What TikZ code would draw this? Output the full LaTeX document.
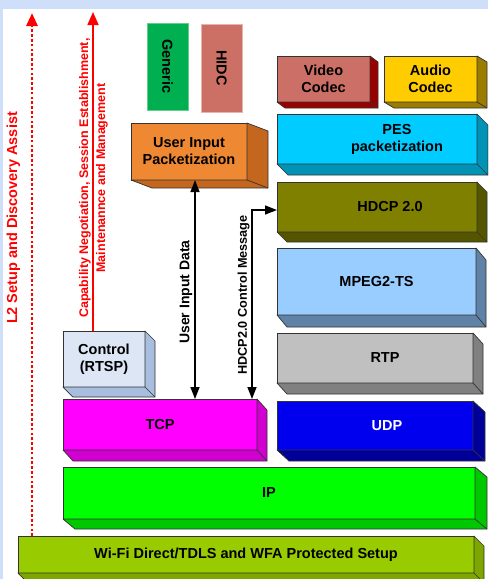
\documentclass[tikz,border=0pt]{standalone}
\usepackage{fontspec}
\setmainfont{Liberation Sans}
\usetikzlibrary{arrows.meta,calc}
\definecolor{frameblue}{HTML}{CFDFFA}
\definecolor{videoF}{HTML}{CC6F66}\definecolor{videoS}{HTML}{990000}
\definecolor{audioF}{HTML}{FFCC00}\definecolor{audioS}{HTML}{9C7C00}
\definecolor{pesF}{HTML}{00CCFF}\definecolor{pesS}{HTML}{0093B5}
\definecolor{hdcpF}{HTML}{808000}\definecolor{hdcpS}{HTML}{555500}
\definecolor{mpegF}{HTML}{99CCFF}\definecolor{mpegS}{HTML}{5F82A6}
\definecolor{rtpF}{HTML}{C0C0C0}\definecolor{rtpS}{HTML}{808080}
\definecolor{udpF}{HTML}{0000EE}\definecolor{udpS}{HTML}{000099}
\definecolor{tcpF}{HTML}{FF00FF}\definecolor{tcpS}{HTML}{D000D0}
\definecolor{ctrlF}{HTML}{DCE6F5}\definecolor{ctrlS}{HTML}{A8BEDF}
\definecolor{uipF}{HTML}{EE8833}\definecolor{uipS}{HTML}{C4661E}
\definecolor{ipF}{HTML}{00FF00}\definecolor{ipS}{HTML}{00C800}
\definecolor{wifiF}{HTML}{99CC00}\definecolor{wifiS}{HTML}{7DA600}
\definecolor{genericF}{HTML}{00B050}\definecolor{genericB}{HTML}{66CC8A}
\definecolor{hidcF}{HTML}{CC7066}\definecolor{hidcB}{HTML}{E8B4AE}
\definecolor{edgegray}{HTML}{333333}
\tikzset{
  slabface/.style={draw=edgegray, line width=0.7pt, inner sep=0pt, outer sep=0pt},
  slabedge/.style={draw=edgegray, line width=0.7pt, line join=round},
  slabtext/.style={align=center, inner sep=0pt, font=\fontsize{14.5}{17}\selectfont\bfseries},
  redtext/.style={text=red, inner sep=0pt, align=center},
  blacktext/.style={inner sep=0pt, align=center}
}
\newcommand{\slab}[9]{%
  \node[slabface, fill=#1F, minimum width={#4pt-#2pt}, minimum height={#5pt-#3pt}] (#1) at ({(#2+#4)/2},{(#3+#5)/2}) {};
  \filldraw[slabedge, fill=#1S] (#1.north east) -- ++(#6,#7) -- ($(#1.south east)+(#6,#7)$) -- ($(#1.south west)+(#6,#7)$) -- (#1.south west) -- (#1.south east) -- cycle;
  \draw[slabedge] (#1.south east) -- ++(#6,#7);
  \node[slabtext, xshift=#8pt] (#1-t) at (#1) {#9};
}
\begin{document}
\begin{tikzpicture}[x=1pt,y=-1pt]
\useasboundingbox (0,0) rectangle (488,579);
\clip (0,0) rectangle (488,579);
\fill[frameblue] (0,0) rectangle (488,579);
\fill[white] (3,9) rectangle (488,579);

% flat boxes
\node[draw=genericB, fill=genericF, line width=0.8pt, minimum width=41pt, minimum height=87pt, inner sep=0pt] (generic) at (167.5,66.5) {};
\node[slabtext, rotate=-90] (generic-t) at (generic) {Generic};
\node[draw=hidcB, fill=hidcF, line width=0.8pt, minimum width=41pt, minimum height=88pt, inner sep=0pt] (hidc) at (221.5,68) {};
\node[slabtext, rotate=-90] (hidc-t) at (hidc) {HIDC};

% 3D layers
\slab{video}{277}{56}{370}{102}{8}{6}{0}{Video\\Codec}
\slab{audio}{384}{56}{477}{102}{10}{6}{0}{Audio\\Codec}
\slab{pes}{277}{114}{477}{164}{11}{11}{20}{PES\\packetization}
\slab{hdcp}{277}{182}{477}{232}{10}{10}{13}{HDCP 2.0}
\slab{mpeg}{277}{248}{476}{315}{10}{12}{0}{MPEG2-TS}
\slab{rtp}{277}{333}{473}{383}{10}{11}{10}{RTP}
\slab{udp}{277}{401}{473}{450}{12}{11}{12}{\color{white}UDP}
\slab{uip}{131}{123}{247}{180}{21}{8}{0}{User Input\\Packetization}
\slab{ctrl}{63}{331}{145}{387}{10}{10}{0}{Control\\(RTSP)}
\slab{tcp}{63}{399}{257}{450}{10}{11}{0}{TCP}
\slab{ip}{63}{467}{475}{519}{12}{10}{0}{IP}
\slab{wifi}{18}{536}{474}{573}{10}{10}{0}{\raisebox{-3pt}{Wi-Fi Direct/TDLS and WFA Protected Setup}}

% red arrows
\coordinate (l2top) at (32,13);
\coordinate (captop) at (93,12);
\draw[red, line width=2.8pt, dash pattern=on 2.6pt off 2.2pt, -{Triangle[length=13pt,width=11pt]}]
  ($(wifi.north west)+(14,0)$) -- (l2top);
\draw[red, line width=1.6pt, -{Triangle[length=13pt,width=11pt]}]
  ($(ctrl.north west)+(30,0)$) -- (captop);
\node[redtext, rotate=90, font=\fontsize{14.5}{17}\selectfont\bfseries] (l2t) at (13.5,218) {L2 Setup and Discovery Assist};
\node[redtext, rotate=90, font=\fontsize{12.5}{17}\selectfont\bfseries] (capt) at (93.5,178)
  {Capability Negotiation, Session Establishment,\\Maintenannce and Management};

% black arrows
\draw[black, line width=1.6pt, {Triangle[length=12pt,width=9pt]}-{Triangle[length=12pt,width=9pt]}]
  ($(uip.south west)+(64,0)$) -- ($(tcp.north west)+(132,0)$);
\node[blacktext, rotate=90, font=\fontsize{14}{17}\selectfont\bfseries] (uidt) at (186,292) {User Input Data};
\coordinate (hcbend) at (252,210);
\draw[black, line width=1.6pt, line join=miter, {Triangle[length=12pt,width=9pt]}-{Triangle[length=12pt,width=9pt]}]
  ($(tcp.north west)+(189,0)$) -- (hcbend) -- (hcbend -| hdcp.west);
\node[blacktext, rotate=90, font=\fontsize{12.7}{15}\selectfont\bfseries] (hcmt) at (243.5,295) {HDCP2.0 Control Message};
\end{tikzpicture}
\end{document}
